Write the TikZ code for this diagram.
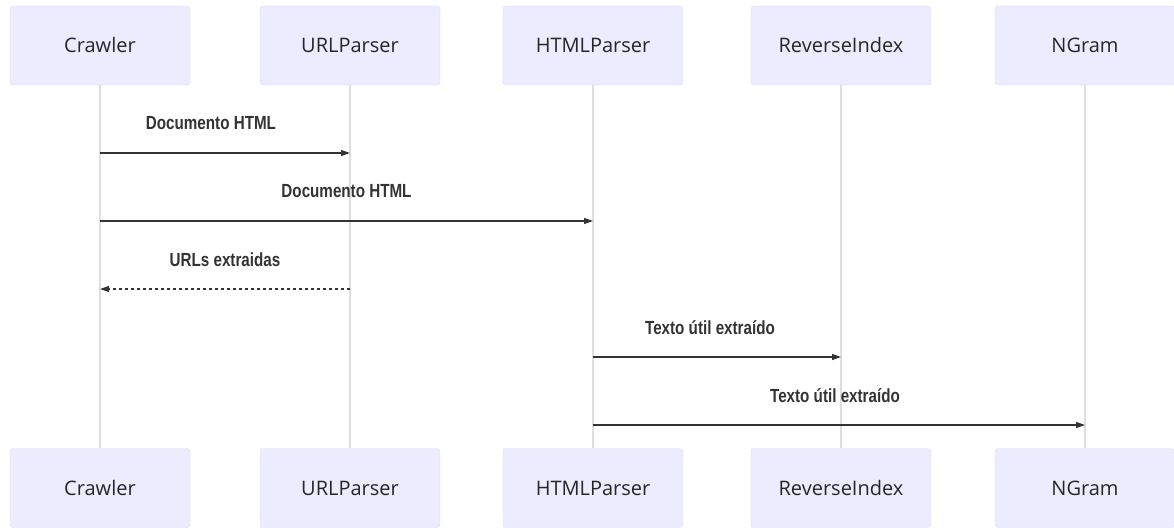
\documentclass[tikz,border=0pt]{standalone}
\usepackage{fontspec}
\setmainfont{Open Sans}
\newfontfamily\msgfont[FakeStretch=0.8]{Liberation Sans}
\usetikzlibrary{positioning,arrows.meta}
\definecolor{actor}{HTML}{ECECFF}
\definecolor{actorline}{HTML}{DCDCF5}
\definecolor{lifeline}{HTML}{DEDEDE}
\definecolor{msg}{HTML}{333333}

\begin{document}
\begin{tikzpicture}[x=1pt,y=1pt]
    \tikzstyle{actor}=[draw=actorline, fill=actor, rounded corners=3pt, minimum width=180pt, minimum height=79pt, font=\fontsize{20}{24}\selectfont, text=black!85, text height=14pt, text depth=0pt, on grid]
    \tikzstyle{life}=[draw=lifeline, line width=1.5pt]
    \tikzstyle{msgline}=[draw=msg, line width=1.3pt, -{Triangle[length=9pt,width=6pt]}]
    \tikzstyle{replyline}=[msgline, dash pattern=on 3pt off 3pt]
    \tikzstyle{lbl}=[font=\msgfont\bfseries\fontsize{19}{22}\selectfont, text=msg, yshift=29.5pt]
    \useasboundingbox (0,0) rectangle (1174,-527);

    % Top
    \node[actor] (crawler) at (100,-45.5) {Crawler};
    \node[actor,right=250pt of crawler] (urlparser) {URLParser};
    \node[actor,right=243pt of urlparser] (htmlparser) {HTMLParser};
    \node[actor,right=248pt of htmlparser] (reverseindex) {ReverseIndex};
    \node[actor,right=244pt of reverseindex] (ngram) {NGram};

    % Bottom
    \node[actor,below=442.5pt of crawler] (crawlerb) {Crawler};
    \node[actor,below=442.5pt of urlparser] (urlparserb) {URLParser};
    \node[actor,below=442.5pt of htmlparser] (htmlparserb) {HTMLParser};
    \node[actor,below=442.5pt of reverseindex] (reverseindexb) {ReverseIndex};
    \node[actor,below=442.5pt of ngram] (ngramb) {NGram};

    % Lifelines
    \draw[life] (crawler) -- (crawlerb);
    \draw[life] (urlparser) -- (urlparserb);
    \draw[life] (htmlparser) -- (htmlparserb);
    \draw[life] (reverseindex) -- (reverseindexb);
    \draw[life] (ngram) -- (ngramb);

    % Messages
    \coordinate (row1) at (0,-153);
    \coordinate (row2) at (0,-221);
    \coordinate (row3) at (0,-289);
    \coordinate (row4) at (0,-357);
    \coordinate (row5) at (0,-425);

    \draw[msgline] (crawler |- row1) -- node[lbl,xshift=-14pt] (txt1) {Documento HTML} (urlparser |- row1);
    \draw[msgline] (crawler |- row2) -- node[lbl] (txt2) {Documento HTML} (htmlparser |- row2);
    \draw[replyline] (urlparser |- row3) -- node[lbl] (txt3) {URLs extraidas} (crawler |- row3);
    \draw[msgline] (htmlparser |- row4) -- node[lbl,xshift=-7pt] (txt4) {Texto útil extraído} (reverseindex |- row4);
    \draw[msgline] (htmlparser |- row5) -- node[lbl,xshift=-4pt] (txt5) {Texto útil extraído} (ngram |- row5);
\end{tikzpicture}
\end{document}
